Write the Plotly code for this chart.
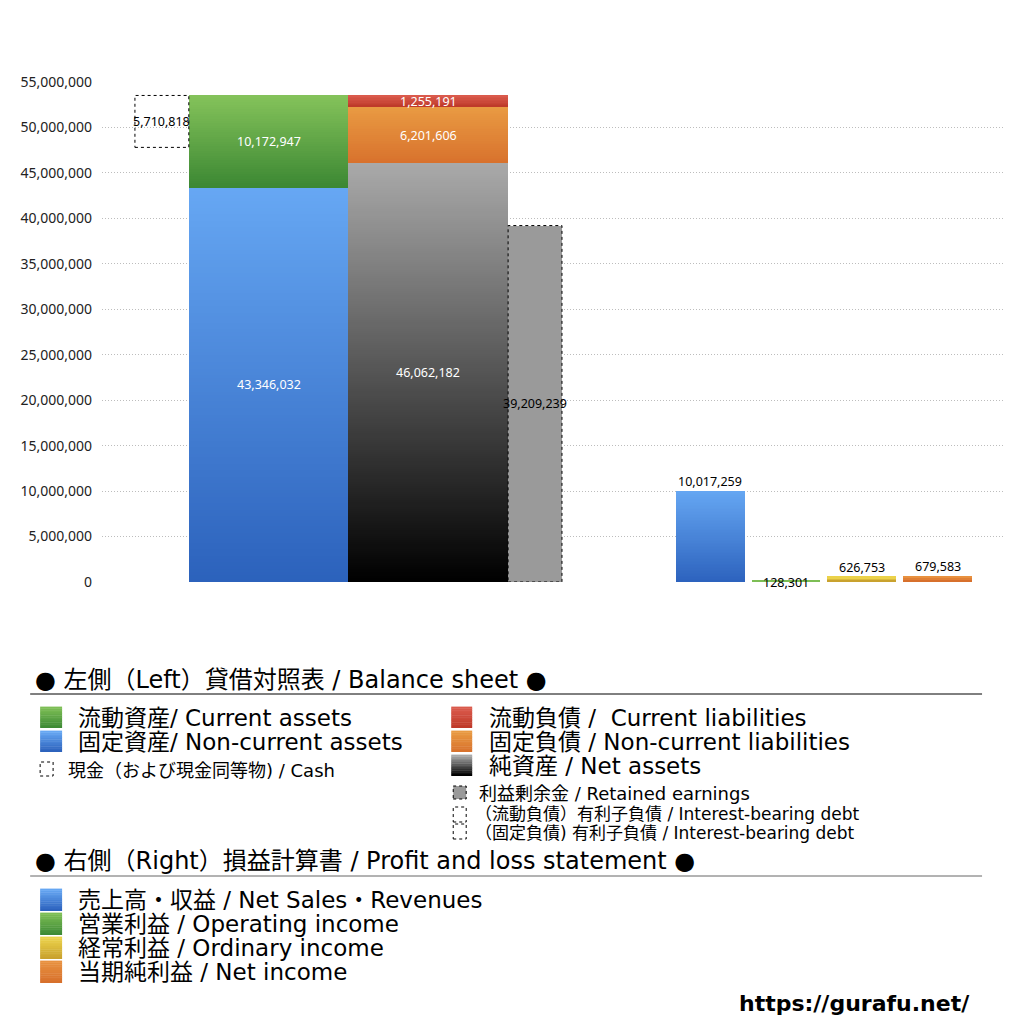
import plotly.graph_objects as go

# balance sheet (left)
current_assets = 10172947
noncurrent_assets = 43346032
cash = 5710818
current_liabilities = 1255191
noncurrent_liabilities = 6201606
net_assets = 46062182
retained_earnings = 39209239

# profit and loss (right)
pl_labels = ["売上高・収益", "営業利益", "経常利益", "当期純利益"]
pl_values = [10017259, 128301, 626753, 679583]

y_ticks = list(range(0, 55000001, 5000000))

# layout helpers: x axis in pixel-like units
X0, X1 = 100, 1005
Y_TOP, Y_BOT = 82, 582
PAGE_OFF = 8  # body margin of the page
pl_pos = [709.5, 785.5, 861.5, 937.5]
pl_colors = [("#65A6F2", "#2D63BE"), ("#7DBE55", "#3E8A35"),
             ("#EBD24A", "#C9A22E"), ("#E8913F", "#D7702C")]


def hex2rgb(h):
    h = h.lstrip("#")
    return tuple(int(h[i:i + 2], 16) for i in (0, 2, 4))


def ramp(top, bottom, n):
    a, b = hex2rgb(bottom), hex2rgb(top)
    out = []
    for i in range(n):
        t = i / (n - 1)
        out.append("rgb(%d,%d,%d)" % tuple(round(a[k] + (b[k] - a[k]) * t) for k in range(3)))
    return out


def gradient_bar(x, base, value, width, top, bottom, n=120):
    step = value / n
    heights = [step * 2] * (n - 1) + [step]
    return go.Bar(x=[x] * n, y=heights, base=[base + i * step for i in range(n)],
                  width=width, marker=dict(color=ramp(top, bottom, n), line_width=0),
                  hoverinfo="skip", showlegend=False)


def px(x):
    return (x - X0) / (X1 - X0)


def py(y):
    return (Y_BOT - y) / (Y_BOT - Y_TOP)


total = current_assets + noncurrent_assets
fig = go.Figure()

fig.add_trace(gradient_bar(267, 0, noncurrent_assets, 160, "#66A7F3", "#2C62BC"))
fig.add_trace(gradient_bar(267, noncurrent_assets, current_assets, 160, "#84C25A", "#3C8833", n=40))
fig.add_trace(gradient_bar(427, 0, net_assets, 160, "#A9A9A9", "#000000", n=200))
fig.add_trace(gradient_bar(427, net_assets, noncurrent_liabilities, 160, "#E99A42", "#D8722D", n=30))
fig.add_trace(gradient_bar(427, net_assets + noncurrent_liabilities, current_liabilities, 160,
                           "#DA5A4C", "#BF3A2A", n=8))
fig.add_trace(go.Bar(x=[534], y=[retained_earnings], width=54, marker=dict(color="#9A9A9A", line_width=0),
                     showlegend=False))
for pos, v, (t, b) in zip(pl_pos, pl_values, pl_colors):
    fig.add_trace(gradient_bar(pos, 0, v, 69, t, b, n=60 if v > 1000000 else 3))

shapes = []
# dotted outlines: cash box and retained earnings
shapes.append(dict(type="rect", xref="x", yref="y", x0=133, x1=187, y0=total - cash, y1=total,
                   line=dict(color="black", width=1, dash="dot")))
shapes.append(dict(type="rect", xref="x", yref="y", x0=507, x1=561, y0=0, y1=retained_earnings,
                   line=dict(color="black", width=1, dash="dot")))

ann = []
lab_font = dict(family="Noto Sans", size=12.5)


def val_label(x, y, v, color, yshift=0):
    ann.append(dict(x=x, y=y, xref="x", yref="y", text=f"{v:,}", showarrow=False, yshift=yshift,
                    font=dict(lab_font, color=color)))


val_label(267, noncurrent_assets / 2, noncurrent_assets, "white")
val_label(267, noncurrent_assets + current_assets / 2, current_assets, "white")
val_label(427, net_assets / 2, net_assets, "white")
val_label(427, net_assets + noncurrent_liabilities / 2, noncurrent_liabilities, "white")
val_label(427, net_assets + noncurrent_liabilities + current_liabilities / 2, current_liabilities, "white")
val_label(160, total - cash / 2, cash, "black")
val_label(534, retained_earnings / 2, retained_earnings, "black")
for pos, v in zip(pl_pos, pl_values):
    val_label(pos, v, v, "black", yshift=9 if v > 200000 else -2)

# legend block drawn below the plot
FAM = "DejaVu Sans, Noto Sans CJK JP"
head = dict(family=FAM, size=24, color="black")
big = dict(family=FAM, size=23, color="black")
small = dict(family=FAM, size=18, color="black")
tiny = dict(family=FAM, size=17, color="black")


def text(x, y, s, font, anchor="left"):
    ann.append(dict(x=px(x), y=py(y), xref="paper", yref="paper", text=s, showarrow=False,
                    xanchor=anchor, yanchor="middle", font=font))


def square(x0, y0, x1, y1, color=None, dotted=False):
    if dotted:
        shapes.append(dict(type="rect", xref="paper", yref="paper", x0=px(x0), x1=px(x1),
                           y0=py(y1), y1=py(y0), line=dict(color="black", width=1, dash="dot"),
                           fillcolor=color or "rgba(0,0,0,0)"))
    else:
        shapes.append(dict(type="rect", xref="paper", yref="paper", x0=px(x0), x1=px(x1),
                           y0=py(y1), y1=py(y0), line_width=0, fillcolor=color))


def grad_square(x0, y0, x1, y1, top, bottom, n=12):
    cols = ramp(top, bottom, n)
    h = (y1 - y0) / n
    for i in range(n):
        square(x0, y1 - (i + 1) * h - 0.4, x1, y1 - i * h, cols[i])


text(31, 680, "● 左側（Left）貸借対照表 / Balance sheet ●", head)
shapes.append(dict(type="line", xref="paper", yref="paper", x0=px(28), x1=px(982), y0=py(694), y1=py(694),
                   line=dict(color="black", width=1)))
grad_square(38, 707, 60, 728, "#7DBE55", "#3E8A35")
text(74, 718, "流動資産/ Current assets", big)
grad_square(38, 731, 60, 752, "#66A7F3", "#2C62BC")
text(74, 742, "固定資産/ Non-current assets", big)
square(38, 762, 51, 776, dotted=True)
text(64, 770, "現金（および現金同等物) / Cash", small)

grad_square(450, 707, 471, 728, "#DA5A4C", "#BF3A2A")
text(486, 718, "流動負債 /  Current liabilities", big)
grad_square(450, 731, 471, 752, "#E99A42", "#D8722D")
text(486, 742, "固定負債 / Non-current liabilities", big)
grad_square(450, 755, 471, 776, "#A9A9A9", "#000000")
text(486, 766, "純資産 / Net assets", big)
square(452, 786, 465, 799, "#9A9A9A", dotted=True)
text(476, 793, "利益剰余金 / Retained earnings", small)
square(452, 807, 465, 822, dotted=True)
text(472, 814, "（流動負債）有利子負債 / Interest-bearing debt", tiny)
square(452, 824, 465, 839, dotted=True)
text(472, 833, "（固定負債) 有利子負債 / Interest-bearing debt", tiny)

text(31, 861, "● 右側（Right）損益計算書 / Profit and loss statement ●", head)
shapes.append(dict(type="line", xref="paper", yref="paper", x0=px(28), x1=px(982), y0=py(876), y1=py(876),
                   line=dict(color="#666666", width=1)))
pl_legend = ["売上高・収益 / Net Sales・Revenues", "営業利益 / Operating income",
             "経常利益 / Ordinary income", "当期純利益 / Net income"]
for i, (name, (t, b)) in enumerate(zip(pl_legend, pl_colors)):
    yc = 900 + 24 * i
    grad_square(38, yc - 11, 60, yc + 11, t, b)
    text(74, yc, name, big)

text(972, 1003, "<b>https://gurafu.net/</b>",
     dict(family="DejaVu Sans", size=22, color="black"), anchor="right")

fig.update_layout(
    width=1024, height=1024,
    margin=dict(l=X0 - PAGE_OFF, r=1024 - X1 + PAGE_OFF, t=Y_TOP - PAGE_OFF, b=1024 - Y_BOT + PAGE_OFF),
    barmode="overlay", bargap=0,
    plot_bgcolor="white", paper_bgcolor="white",
    showlegend=False,
    font=dict(family="Noto Sans CJK JP", color="#333333"),
    shapes=shapes, annotations=ann,
    xaxis=dict(range=[X0, X1], visible=False, fixedrange=True),
    yaxis=dict(range=[0, 55000000], tickvals=y_ticks, ticktext=[f"{v:,}" for v in y_ticks],
               showgrid=True, gridcolor="#BDBDBD", griddash="1px,2px", gridwidth=1,
               zeroline=False, showline=False, ticks="", tickfont=dict(family="Noto Sans", size=14, color="#222222"),
               ticklabelstandoff=9),
)

fig.write_html("out.html")
